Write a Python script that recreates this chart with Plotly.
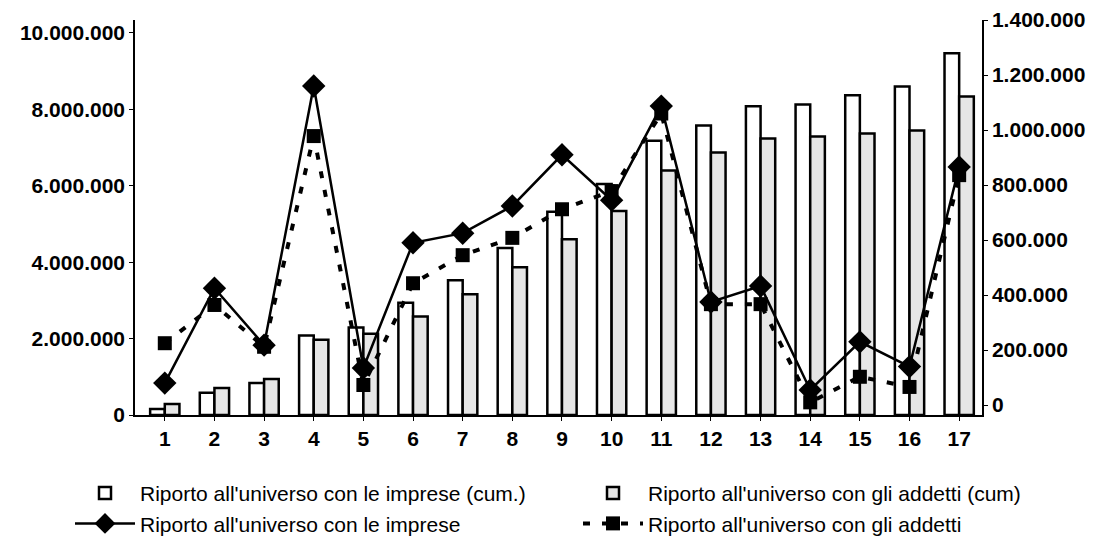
import plotly.graph_objects as go

# Categories 1..17
categorie = list(range(1, 18))

# Bars (left axis): cumulative values
imprese_cum = [160_000, 580_000, 840_000, 2_080_000, 2_290_000, 2_940_000, 3_530_000,
               4_370_000, 5_320_000, 6_050_000, 7_180_000, 7_580_000, 8_080_000,
               8_130_000, 8_370_000, 8_600_000, 9_470_000]
addetti_cum = [290_000, 710_000, 940_000, 1_970_000, 2_130_000, 2_580_000, 3_160_000,
               3_870_000, 4_600_000, 5_340_000, 6_400_000, 6_870_000, 7_240_000,
               7_290_000, 7_370_000, 7_450_000, 8_340_000]

# Lines (right axis)
imprese = [80_000, 425_000, 218_000, 1_160_000, 135_000, 590_000, 625_000, 724_000,
           910_000, 745_000, 1_087_000, 375_000, 433_000, 55_000, 230_000, 140_000,
           866_000]
addetti = [225_000, 364_000, 212_000, 978_000, 73_000, 443_000, 545_000, 608_000,
           712_000, 778_000, 1_060_000, 367_000, 367_000, 10_000, 103_000, 66_000,
           836_000]

FONT = "Liberation Sans, Arial, sans-serif"

fig = go.Figure()
fig.add_trace(go.Bar(
    x=categorie, y=imprese_cum, legend="legend",
    name="Riporto all'universo con le imprese (cum.)",
    marker={"color": "white", "line": {"color": "black", "width": 2.5}},
))
fig.add_trace(go.Bar(
    x=categorie, y=addetti_cum, legend="legend2",
    name="Riporto all'universo con gli addetti (cum)",
    marker={"color": "#e6e6e6", "line": {"color": "black", "width": 2.5}},
))
fig.add_trace(go.Scatter(
    x=categorie, y=imprese, yaxis="y2", legend="legend",
    name="Riporto all'universo con le imprese",
    mode="lines+markers",
    line={"color": "black", "width": 2.5},
    marker={"symbol": "diamond", "size": 18, "color": "black"},
))
fig.add_trace(go.Scatter(
    x=categorie, y=addetti, yaxis="y2", legend="legend2",
    name="Riporto all'universo con gli addetti",
    mode="lines+markers",
    line={"color": "black", "width": 4, "dash": "7px,12px"},
    marker={"symbol": "square", "size": 14, "color": "black"},
))

tick_font = {"family": FONT, "size": 21, "color": "black", "weight": "bold"}
legend_font = {"family": FONT, "size": 21, "color": "black"}

fig.update_layout(
    width=1104, height=540,
    separators=",.",
    paper_bgcolor="white", plot_bgcolor="white",
    margin={"l": 127, "r": 130, "t": 12, "b": 133, "autoexpand": False},
    barmode="group", bargap=0.41, bargroupgap=0,
    showlegend=True,
    legend={
        "orientation": "v", "traceorder": "normal",
        "xref": "container", "x": 62 / 1104, "xanchor": "left",
        "yref": "container", "y": 0.139, "yanchor": "top",
        "font": legend_font, "tracegroupgap": 0, "itemwidth": 60,
        "bgcolor": "rgba(0,0,0,0)",
    },
    legend2={
        "orientation": "v", "traceorder": "normal",
        "xref": "container", "x": 570 / 1104, "xanchor": "left",
        "yref": "container", "y": 0.139, "yanchor": "top",
        "font": legend_font, "tracegroupgap": 0, "itemwidth": 60,
        "bgcolor": "rgba(0,0,0,0)",
    },
    xaxis={
        "range": [0.4, 17.46], "tickmode": "array", "tickvals": categorie,
        "showgrid": False, "zeroline": False,
        "showline": True, "linecolor": "black", "linewidth": 2,
        "ticks": "outside", "ticklen": 4, "tickcolor": "black",
        "tickfont": tick_font,
    },
    yaxis={
        "range": [0, 10_340_000], "tick0": 0, "dtick": 2_000_000, "tickformat": ",d",
        "showgrid": False, "zeroline": False,
        "showline": True, "linecolor": "black", "linewidth": 1.5,
        "ticks": "outside", "ticklen": 4, "tickcolor": "black",
        "tickfont": tick_font,
    },
    yaxis2={
        "range": [-36_000, 1_400_000], "tick0": 0, "dtick": 200_000, "tickformat": ",d",
        "overlaying": "y", "side": "right",
        "showgrid": False, "zeroline": False,
        "showline": True, "linecolor": "black", "linewidth": 1.5,
        "ticks": "outside", "ticklen": 4, "tickcolor": "black",
        "tickfont": tick_font,
    },
)

fig.write_html("out.html")
